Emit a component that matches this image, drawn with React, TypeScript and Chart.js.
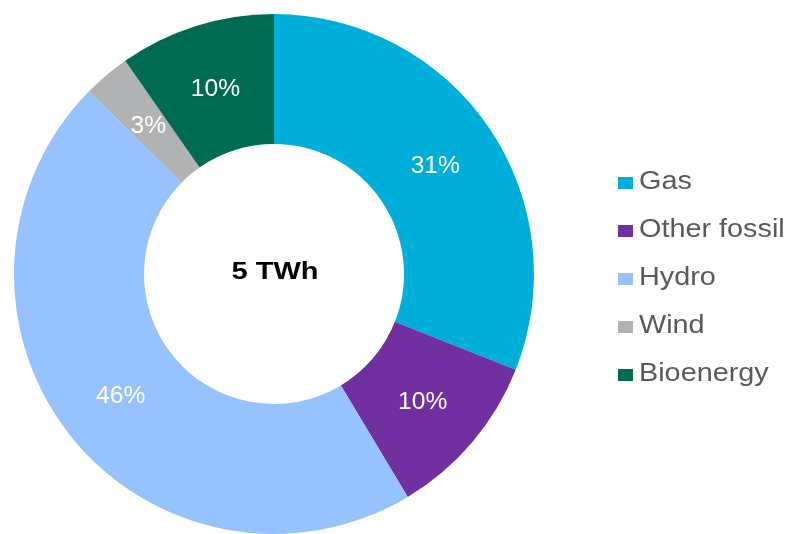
import React, { useEffect, useRef } from "react";
import { Chart, registerables } from "chart.js";

Chart.register(...registerables);

const categories = ["Gas", "Other fossil", "Hydro", "Wind", "Bioenergy"];
const shares = [31, 10.4, 46, 2.9, 9.7];
const colors = ["#00AFD9", "#7030A0", "#96C2FE", "#B1B2B4", "#006B53"];
const centerLabel = "5 TWh";

const FONT = "'Liberation Sans', Arial, sans-serif";

function stretchedText(ctx: CanvasRenderingContext2D, text: string, x: number, y: number, sx: number) {
  ctx.save();
  ctx.translate(x, y);
  ctx.scale(sx, 1);
  ctx.fillText(text, 0, 0);
  ctx.restore();
}

export default function App() {
  const ref = useRef<HTMLCanvasElement | null>(null);

  useEffect(() => {
    document.body.style.margin = "0";
    const canvas = ref.current;
    if (!canvas) return;

    const total = shares.reduce((a, b) => a + b, 0);

    const labelsPlugin = {
      id: "customLabels",
      afterDatasetsDraw(chart: any) {
        const ctx = chart.ctx as CanvasRenderingContext2D;
        const meta = chart.getDatasetMeta(0);
        ctx.save();
        ctx.fillStyle = "#FFFFFF";
        ctx.font = `23px ${FONT}`;
        ctx.textAlign = "center";
        ctx.textBaseline = "middle";
        meta.data.forEach((arc: any, i: number) => {
          const { x, y, startAngle, endAngle, innerRadius, outerRadius } = arc.getProps(
            ["x", "y", "startAngle", "endAngle", "innerRadius", "outerRadius"],
            true
          );
          const mid = (startAngle + endAngle) / 2;
          const r = (innerRadius + outerRadius) / 2;
          const pct = Math.round((shares[i] / total) * 100);
          stretchedText(ctx, `${pct}%`, x + Math.cos(mid) * r, y + Math.sin(mid) * r + 2, 1.07);
        });
        // center label
        const a0 = meta.data[0];
        ctx.fillStyle = "#000000";
        ctx.font = `bold 24px ${FONT}`;
        stretchedText(ctx, centerLabel, a0.x + 1, a0.y - 2, 1.21);
        // legend
        ctx.textAlign = "left";
        ctx.textBaseline = "alphabetic";
        ctx.font = `25.5px ${FONT}`;
        categories.forEach((c, i) => {
          const by = 189 + i * 48;
          ctx.fillStyle = colors[i];
          ctx.fillRect(618, by - 12, 15, 12);
          ctx.fillStyle = "#595959";
          stretchedText(ctx, c, 639, by, 1.13);
        });
        ctx.restore();
      },
    };

    const chart = new Chart(canvas, {
      type: "doughnut",
      data: {
        labels: categories,
        datasets: [
          {
            data: shares,
            backgroundColor: colors,
            borderWidth: 0,
          },
        ],
      },
      options: {
        responsive: false,
        animation: false,
        cutout: "50%",
        layout: { padding: { left: 14, right: 256, top: 14, bottom: 0 } },
        plugins: {
          legend: { display: false },
          tooltip: { enabled: false },
        },
      },
      plugins: [labelsPlugin],
    });

    return () => chart.destroy();
  }, []);

  return (
    <div style={{ position: "absolute", left: 0, top: 0, width: 790, height: 534, background: "#fff" }}>
      <canvas ref={ref} width={790} height={534} style={{ width: 790, height: 534, display: "block" }} />
    </div>
  );
}
